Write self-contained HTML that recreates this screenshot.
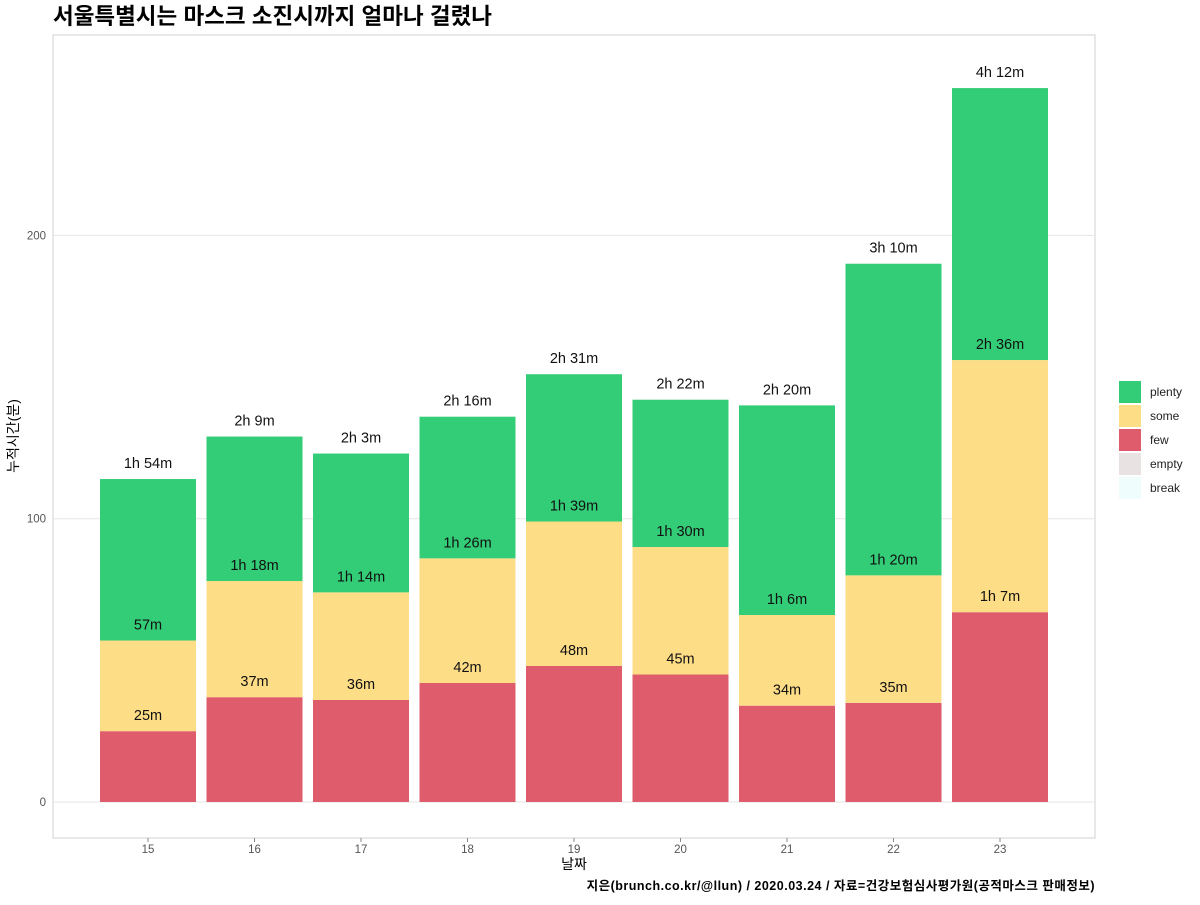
<!DOCTYPE html>
<html><head><meta charset="utf-8"><style>
body{margin:0;background:#fff;}
svg text{font-family:"Liberation Sans","Noto Sans CJK KR",sans-serif;}
</style></head><body>
<svg id="chart" width="1200" height="900" xmlns="http://www.w3.org/2000/svg">
<text x="53" y="24" font-size="22.5" font-weight="bold" fill="#000">서울특별시는 마스크 소진시까지 얼마나 걸렸나</text>
<rect x="53" y="35" width="1042" height="803" fill="#fff" stroke="#d0d0d0"/>
<g id="grid"></g><g id="bars"></g><g id="labels"></g><g id="axes"></g>
<text x="574" y="869" font-size="14" text-anchor="middle">날짜</text>
<text transform="translate(18,436) rotate(-90)" font-size="14" text-anchor="middle">누적시간(분)</text>
<text x="1095" y="890" font-size="12.5" font-weight="bold" letter-spacing="0.5" text-anchor="end">지은(brunch.co.kr/@llun) / 2020.03.24 / 자료=건강보험심사평가원(공적마스크 판매정보)</text>
<g id="legend"></g>
</svg>
<script>
const days=["15","16","17","18","19","20","21","22","23"];
const few=[25,37,36,42,48,45,34,35,67];
const someCum=[57,78,74,86,99,90,66,80,156];
const plentyCum=[114,129,123,136,151,142,140,190,252];
const yTicks=[0,100,200];
const legendNames=["plenty","some","few","empty","break"];
const legendColors=["#33cc77","#fedd87","#de5c6b","#e8e2e2","#effdfd"];
const NS="http://www.w3.org/2000/svg";
const y=v=>802-v*2.833;
const x=i=>148+i*106.5;
function mk(t,a,p){const e=document.createElementNS(NS,t);for(const k in a)e.setAttribute(k,a[k]);document.getElementById(p).appendChild(e);return e;}
function fmt(v){const h=Math.floor(v/60),m=v%60;return h?h+"h "+m+"m":m+"m";}
yTicks.forEach(t=>{
 const l=mk("line",{x1:53,x2:1095,y1:y(t),y2:y(t),stroke:"#e6e6e6"},"grid");
 
 
 const tx=mk("text",{x:46,y:y(t)+4,"font-size":11.5,fill:"#555","text-anchor":"end"},"axes");tx.textContent=t;
 
 
});
days.forEach((d,i)=>{
 const segs=[[0,few[i],"#de5c6b","few"],[few[i],someCum[i],"#fedd87","some"],[someCum[i],plentyCum[i],"#33cc77","plenty"]];
 segs.forEach(s=>{
  const r=mk("rect",{x:x(i)-48,width:96,y:y(s[1]),height:y(s[0])-y(s[1]),fill:s[2]},"bars");
  
  
  const t=mk("text",{x:x(i),y:y(s[1])-11,"font-size":14.5,"text-anchor":"middle",fill:"#111"},"labels");
  t.textContent=fmt(s[1]);
  
  
 });
 const tk=mk("line",{x1:x(i),x2:x(i),y1:838,y2:842,stroke:"#888"},"axes");
 
 
 const tl=mk("text",{x:x(i),y:853,"font-size":11.5,fill:"#555","text-anchor":"middle"},"axes");tl.textContent=d;
 
 
});
legendNames.forEach((n,i)=>{
 const r=mk("rect",{x:1119,y:381+i*24,width:22,height:22,fill:legendColors[i]},"legend");
 
 
 const t=mk("text",{x:1150,y:396+i*24,"font-size":12,fill:"#222"},"legend");t.textContent=n;
 
 
});
</script>
</body></html>
